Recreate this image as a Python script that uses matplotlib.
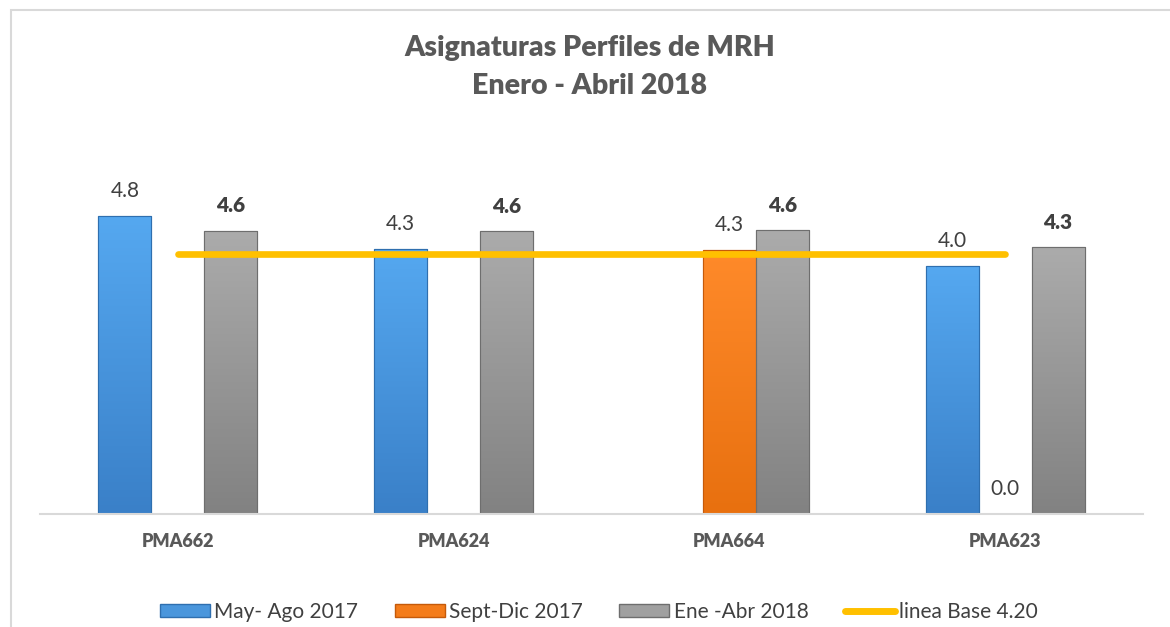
import numpy as np
import matplotlib
matplotlib.use("Agg")
import matplotlib.pyplot as plt
from matplotlib.colors import LinearSegmentedColormap
from matplotlib.patches import Patch, Rectangle
from matplotlib.lines import Line2D

plt.rcParams['font.family'] = ['Lato', 'DejaVu Sans']

categories = ['PMA662', 'PMA624', 'PMA664', 'PMA623']
may_ago_2017 = [4.80, 4.28, np.nan, 4.00]
sept_dic_2017 = [np.nan, np.nan, 4.26, 0.0]
ene_abr_2018 = [4.57, 4.56, 4.58, 4.30]
linea_base = 4.20
series_names = ['May- Ago 2017', 'Sept-Dic 2017', 'Ene -Abr 2018']
line_name = 'linea Base 4.20'

# top colour, bottom colour, edge colour, legend face
styles = [
    ('#55A8F0', '#3A80C8', '#2F6FAF', '#4A96DC'),
    ('#FF8A2A', '#E8700F', '#C55A0A', '#F47C1A'),
    ('#ABABAB', '#828282', '#6E6E6E', '#A0A0A0'),
]

fig = plt.figure(figsize=(11.7, 6.27), dpi=100)
ax = fig.add_axes([40 / 1170, 1 - 514 / 627, 1103 / 1170, 341 / 627])

x = np.arange(len(categories))
w = 0.192
offsets = [-w, 0, w]
data = [may_ago_2017, sept_dic_2017, ene_abr_2018]

for vals, off, (ctop, cbot, cedge, _), bold in zip(data, offsets, styles, [False, False, True]):
    bars = ax.bar(x + off, vals, width=w, color=cbot, edgecolor=cedge, linewidth=0.8, zorder=2)
    cmap = LinearSegmentedColormap.from_list('g', [cbot, ctop])
    for bar, v in zip(bars, vals):
        if np.isnan(v):
            continue
        if v > 0:
            x0, h = bar.get_x(), bar.get_height()
            grad = np.linspace(0, 1, 100).reshape(-1, 1)
            im = ax.imshow(grad, extent=[x0, x0 + w, 0, h], origin='lower',
                           aspect='auto', cmap=cmap, zorder=2.1)
            im.set_clip_path(bar)
            ax.add_patch(Rectangle((x0, 0), w, h, fill=False, edgecolor=cedge,
                                   linewidth=0.8, zorder=2.2))
        ax.annotate(f'{v:.1f}', (bar.get_x() + w / 2, v), xytext=(0, 18),
                    textcoords='offset points', ha='center', va='center',
                    fontsize=15, color='#404040',
                    fontweight='heavy' if bold else 'normal', zorder=4)

ax.plot([x[0], x[-1]], [linea_base, linea_base], color='#FFC000', lw=4.8,
        solid_capstyle='round', zorder=3)

ax.set_xlim(-0.5, len(categories) - 0.5)
ax.set_ylim(0, 5.5)
for s in ['top', 'right', 'left']:
    ax.spines[s].set_visible(False)
ax.spines['bottom'].set_color('#D9D9D9')
ax.spines['bottom'].set_linewidth(1.5)
ax.set_yticks([])
ax.set_xticks(x)
ax.set_xticklabels(categories, fontsize=13, fontweight='heavy', color='#595959')
ax.tick_params(axis='x', length=0, pad=14)

fig.text(590 / 1170, 1 - 48 / 627, 'Asignaturas Perfiles de MRH', ha='center', va='center',
         fontsize=20.5, fontweight='heavy', color='#595959')
fig.text(590 / 1170, 1 - 86 / 627, 'Enero - Abril 2018', ha='center', va='center',
         fontsize=20.5, fontweight='heavy', color='#595959')

handles = [Patch(facecolor=s[3], edgecolor=s[2]) for s in styles]
handles.append(Line2D([0], [0], color='#FFC000', lw=5, solid_capstyle='round'))
fig.legend(handles, series_names + [line_name], loc='center', ncol=4,
           bbox_to_anchor=(599 / 1170, 1 - 612 / 627), frameon=False,
           fontsize=15, labelcolor='#404040', handlelength=2.4, handleheight=0.6,
           handletextpad=0.2, columnspacing=1.75)

fig.add_artist(Rectangle((11 / 1170, -0.1), 1.2, 1.1 - 10 / 627, transform=fig.transFigure,
                         fill=False, edgecolor='#D9D9D9', linewidth=1.5))

fig.savefig('out.png', dpi=100)
